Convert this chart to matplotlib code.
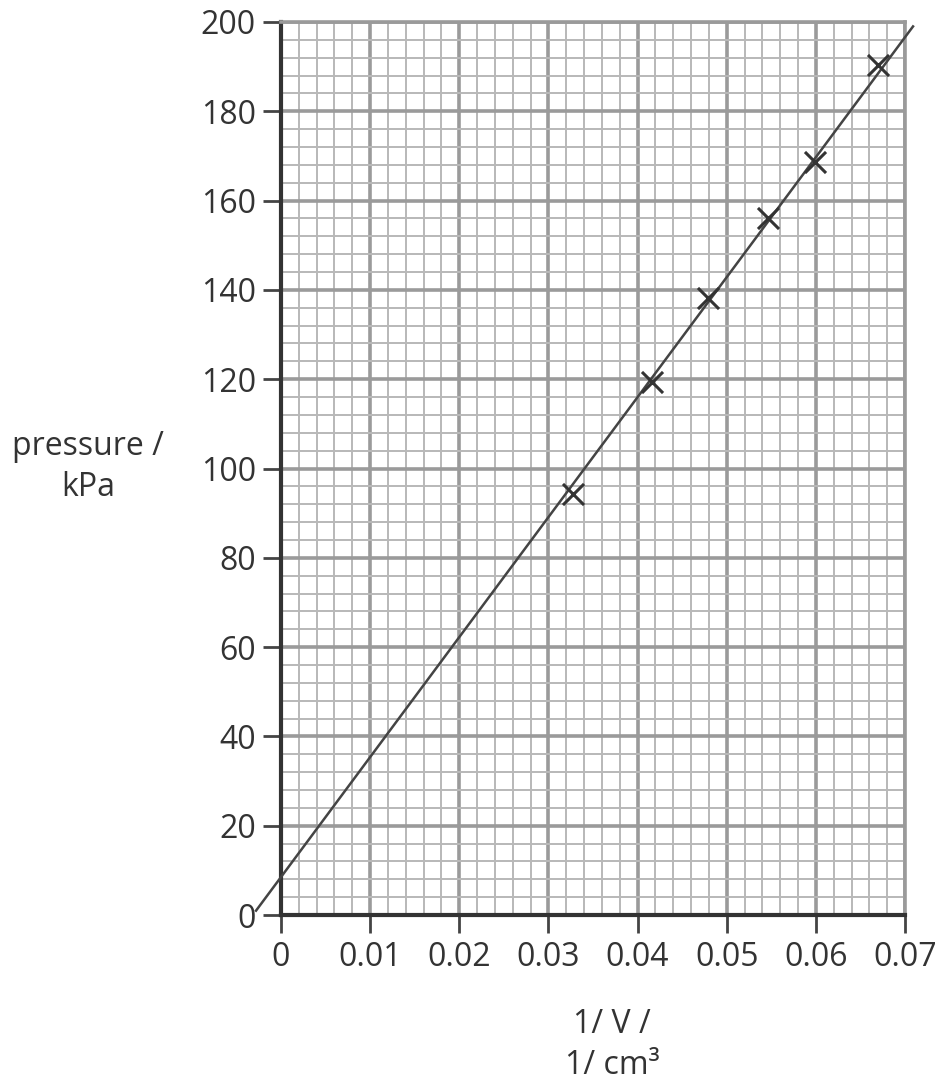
import numpy as np
import matplotlib.pyplot as plt
from matplotlib.ticker import MultipleLocator

# readings: 1/V (1/cm3) against pressure (kPa)
inv_volume = [0.0328, 0.0416, 0.0479, 0.0546, 0.0599, 0.0670]
pressure = [94.3, 119.4, 138.2, 156.1, 168.6, 190.4]

# best-fit line as drawn by hand
line_x = [-0.0028, 0.0709]
line_intercept = 8.5
line_slope = 2687.0

x_ticks = [0, 0.01, 0.02, 0.03, 0.04, 0.05, 0.06, 0.07]
x_tick_labels = ["0", "0.01", "0.02", "0.03", "0.04", "0.05", "0.06", "0.07"]
y_ticks = [0, 20, 40, 60, 80, 100, 120, 140, 160, 180, 200]


def main():
    plt.rcParams['font.family'] = ["Open Sans", "DejaVu Sans"]
    txt = "#333333"
    fig = plt.figure(figsize=(9.41, 10.85), dpi=100)
    ax = fig.add_axes([281 / 941, 1 - 915 / 1085, 624 / 941, 893 / 1085])

    ax.set_xlim(0, 0.07)
    ax.set_ylim(0, 200)

    # graph paper
    ax.xaxis.set_minor_locator(MultipleLocator(0.002))
    ax.yaxis.set_minor_locator(MultipleLocator(4))
    ax.grid(which="minor", color="#b8b8b8", linewidth=1.4)
    ax.grid(which="major", color="#9a9a9a", linewidth=2.6)
    ax.set_axisbelow(True)

    ax.set_xticks(x_ticks)
    ax.set_xticklabels(x_tick_labels)
    ax.set_yticks(y_ticks)
    ax.tick_params(which="minor", length=0)
    ax.tick_params(which="major", length=13, width=2, color="#444444",
                   labelsize=23, labelcolor=txt)
    ax.tick_params(axis="y", pad=5)
    ax.tick_params(axis="x", pad=6)

    for side in ["top", "right"]:
        ax.spines[side].set_color("#9a9a9a")
        ax.spines[side].set_linewidth(2.6)
    for side in ["left", "bottom"]:
        ax.spines[side].set_color("#333333")
        ax.spines[side].set_linewidth(3)

    xs = np.array(line_x)
    ax.plot(xs, line_intercept + line_slope * xs, color="#444444",
            linewidth=1.8, clip_on=False, zorder=3)
    ax.scatter(inv_volume, pressure, marker="x", s=230, color="#333333",
               linewidths=2.2, zorder=4, clip_on=False)

    fig.text(88 / 941, 1 - 467 / 1085, "pressure /\nkPa", ha="center",
             va="center", fontsize=23, color=txt, linespacing=1.3)
    fig.text(612 / 941, 1 - 1045 / 1085, "1/ V /\n1/ cm\u00b3", ha="center",
             va="center", fontsize=23, color=txt, linespacing=1.3)

    fig.savefig("out.png", dpi=100, facecolor="white")


if __name__ == '__main__':
    main()
